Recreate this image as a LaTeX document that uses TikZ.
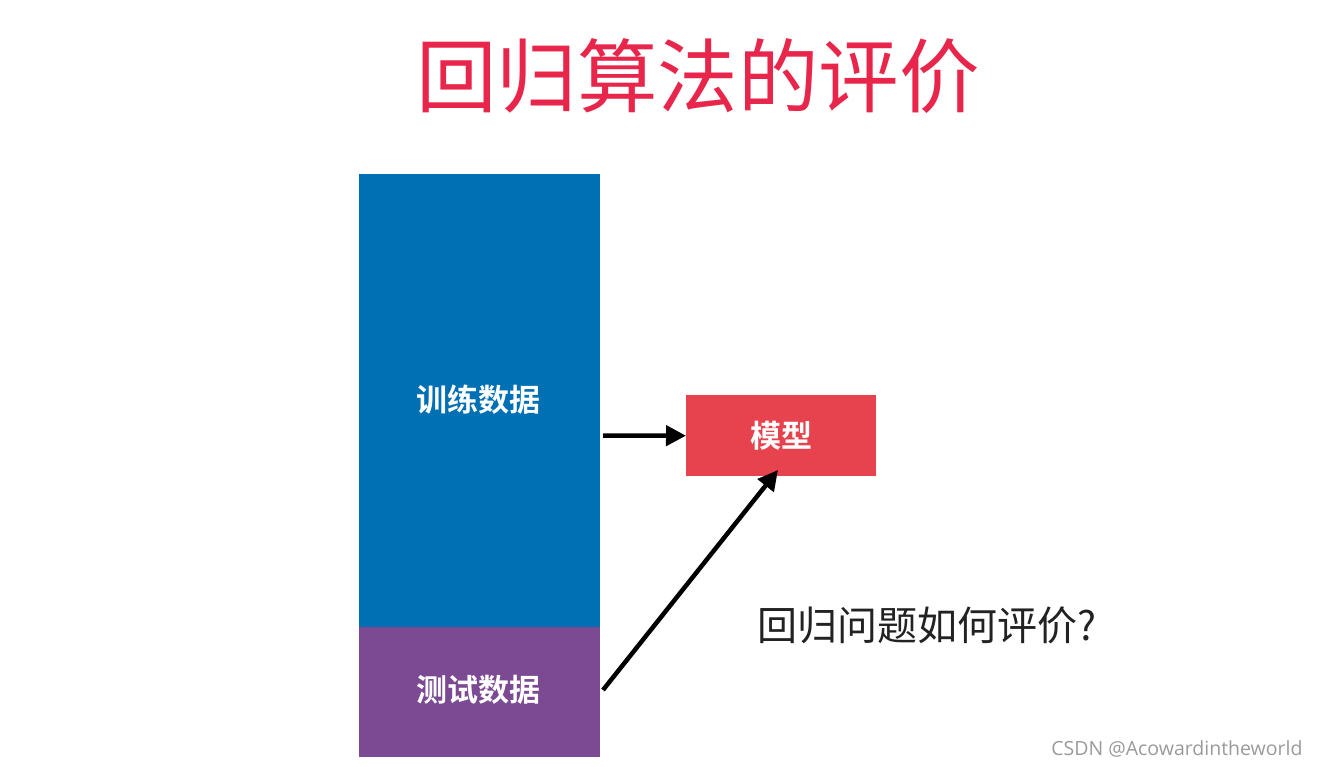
\documentclass[tikz,border=0pt]{standalone}
\usepackage{fontspec}
\newfontfamily\cjk{Noto Sans CJK SC}
\newfontfamily\cjkb{Noto Sans CJK SC Bold}
\setmainfont{Open Sans}
\usetikzlibrary{arrows.meta}
\definecolor{titlered}{HTML}{E8264B}
\definecolor{trainblue}{HTML}{0070B4}
\definecolor{testpurple}{HTML}{7C4A92}
\definecolor{modelred}{HTML}{E7434F}
\definecolor{darktext}{HTML}{222222}
\definecolor{wmgrey}{HTML}{9A9A9A}
\tikzset{
  block/.style={draw=none, inner sep=0pt, anchor=north west},
  blocklabel/.style={text=white, font=\cjkb\fontsize{31}{34}\selectfont},
  conn/.style={line width=4.5pt, -{Triangle[length=20pt,width=20pt]}},
}
\begin{document}
\begin{tikzpicture}[x=1pt,y=-1pt]
\useasboundingbox (0,0) rectangle (1319,767);
\node[text=titlered, font=\cjk\fontsize{80.5}{82}\selectfont] (title) at (698,76) {回归算法的评价};
\node[block, fill=trainblue, minimum width=241pt, minimum height=453pt] (train) at (359,174) {};
\node[block, fill=testpurple, minimum width=241pt, minimum height=130pt] (test) at (359,627) {};
\node[blocklabel] (trainlbl) at (478,400) {训练数据};
\node[blocklabel] (testlbl) at (478,690) {测试数据};
\node[block, fill=modelred, minimum width=190pt, minimum height=81pt] (model) at (686,395) {};
\node[blocklabel] (modellbl) at (781,436) {模型};
\coordinate (a1s) at (603,435.5);
\coordinate (a2s) at (603,690);
\coordinate (a2e) at (778,470);
\draw[conn] (a1s) -- (model.west);
\draw[conn] (a2s) -- (a2e);
\node[anchor=west, text=darktext, font=\cjk\fontsize{40}{42}\selectfont] (question) at (754,625) {回归问题如何评价?};
\node[anchor=east, text=wmgrey, font=\fontsize{19.5}{21}\selectfont] (wm) at (1306,749) {CSDN @Acowardintheworld};
\end{tikzpicture}
\end{document}
